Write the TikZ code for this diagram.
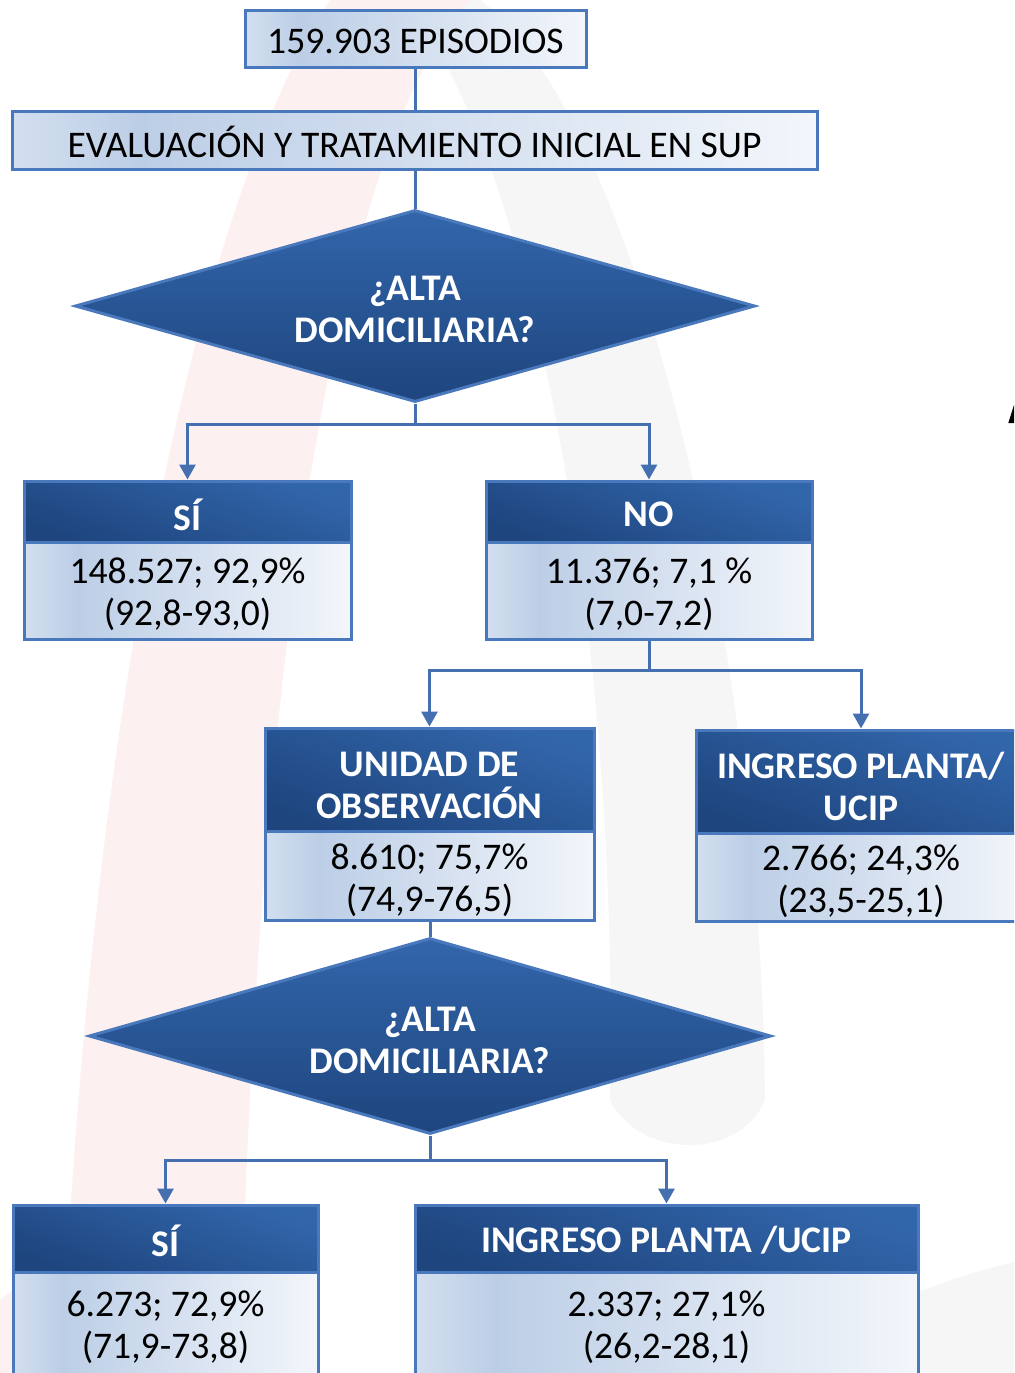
\documentclass[tikz,border=0pt]{standalone}
\usepackage{fontspec}
\setmainfont{Carlito}
\usetikzlibrary{shapes.geometric,arrows.meta,calc}
\definecolor{lnblue}{HTML}{4470B0}
\definecolor{bdblue}{HTML}{4A78BC}
\definecolor{hdtop}{HTML}{3266AB}
\definecolor{hdbot}{HTML}{1E457E}
\definecolor{lbA}{HTML}{D3DFEF}
\definecolor{lbB}{HTML}{BCCEE6}
\definecolor{lbC}{HTML}{F3F6FB}
\definecolor{wmpink}{HTML}{FDF0F0}
\definecolor{wmgray}{HTML}{F6F6F6}
\pgfdeclarehorizontalshading{lightbody}{100bp}{color(0bp)=(lbA); color(25bp)=(lbA); color(33bp)=(lbB); color(75bp)=(lbC); color(100bp)=(lbC)}
\tikzset{
  txt/.style={font=\fontsize{18.8}{21}\selectfont, align=center, inner sep=0pt, text=black},
  wtxt/.style={font=\bfseries\fontsize{18.8}{21}\selectfont, align=center, inner sep=0pt, text=white},
  lightbox/.style={rectangle, draw=bdblue, line width=1.5pt, shading=lightbody, inner sep=0pt},
  headbox/.style={rectangle, draw=bdblue, line width=1.5pt, top color=hdtop, bottom color=hdbot, shading angle=-20, inner sep=0pt},
  decision/.style={diamond, aspect=3.54, draw=bdblue, line width=1.5pt, top color=hdtop, bottom color=hdbot, inner sep=0pt},
  conn/.style={draw=lnblue, line width=1.5pt},
  arr/.style={conn, -{Triangle[width=8pt,length=7.5pt]}},
}
\begin{document}
\begin{tikzpicture}[x=0.5pt,y=-0.5pt]
\useasboundingbox (0,0) rectangle (1014,1373);
\fill[white] (0,0) rectangle (1014,1373);
\begin{scope}
\clip (0,0) rectangle (1014,1373);
% watermark
\fill[wmgray] (400,0) .. controls (520,120) and (620,600) .. (610,1100) .. controls (640,1160) and (740,1160) .. (765,1100) .. controls (760,600) and (620,100) .. (480,0) -- cycle;
\fill[wmpink] (62,1373) .. controls (90,700) and (200,200) .. (330,0) -- (470,0) .. controls (330,150) and (255,700) .. (240,1373) -- cycle;
\fill[wmgray] (760,1373) .. controls (860,1310) and (940,1280) .. (1014,1262) -- (1014,1373) -- cycle;
\fill[wmpink] (0,1300) -- (13,1290) -- (13,1373) -- (0,1373) -- cycle;
\fill[black] (1008.3,423) -- (1014,405) -- (1014,423) -- cycle;

% boxes
\node[lightbox, minimum width=170.5pt, minimum height=28.5pt] (ep) at (415.5,38.5) {};
\node[lightbox, minimum width=402.5pt, minimum height=29pt] (ev) at (414.5,140) {};
\node[decision, minimum width=340pt, minimum height=96pt] (d1) at (415,306) {};

\node[headbox, minimum width=163.5pt, minimum height=30.5pt] (sih) at (187.5,511.5) {};
\node[lightbox, minimum width=163.5pt, minimum height=48.5pt] (sib) at (187.5,590.5) {};
\node[headbox, minimum width=163pt, minimum height=30.5pt] (noh) at (649,511.5) {};
\node[lightbox, minimum width=163pt, minimum height=48.5pt] (nob) at (649,590.5) {};

\node[headbox, minimum width=164.5pt, minimum height=51.5pt] (uoh) at (429.5,779.5) {};
\node[lightbox, minimum width=164.5pt, minimum height=44.5pt] (uob) at (429.5,875.5) {};
\node[headbox, minimum width=165pt, minimum height=51.5pt] (iph) at (861,781.5) {};
\node[lightbox, minimum width=165pt, minimum height=44pt] (ipb) at (861,877) {};

\node[decision, minimum width=341pt, minimum height=98pt] (d2) at (430,1036) {};

\node[headbox, minimum width=152.5pt, minimum height=33.5pt] (s2h) at (165.5,1238.5) {};
\node[lightbox, minimum width=152.5pt, minimum height=53pt] (s2b) at (165.5,1325) {};
\node[headbox, minimum width=251.5pt, minimum height=33.5pt] (i2h) at (666.5,1238.5) {};
\node[lightbox, minimum width=251.5pt, minimum height=53pt] (i2b) at (666.5,1325) {};

% texts
\node[txt] (ept) at (415.5,41.5) {159.903 EPISODIOS};
\node[txt] (evt) at (414.5,141.5) {EVALUACIÓN Y TRATAMIENTO INICIAL EN SUP};
\node[wtxt] (d1t) at (415,309) {¿ALTA\\DOMICILIARIA?};
\node[wtxt] (siht) at (187.5,514.5) {SÍ};
\node[txt] (sibt) at (187.5,594.5) {148.527; 92,9\%\\(92,8-93,0)};
\node[wtxt] (noht) at (649,514.5) {NO};
\node[txt] (nobt) at (649,594.5) {11.376; 7,1 \%\\(7,0-7,2)};
\node[wtxt] (uoht) at (429.5,785.5) {UNIDAD DE\\OBSERVACIÓN};
\node[txt] (uobt) at (429.5,880.5) {8.610; 75,7\%\\(74,9-76,5)};
\node[wtxt] (ipht) at (861,786.5) {INGRESO PLANTA/\\UCIP};
\node[txt] (ipbt) at (861,881.5) {2.766; 24,3\%\\(23,5-25,1)};
\node[wtxt] (d2t) at (430,1040) {¿ALTA\\DOMICILIARIA?};
\node[wtxt] (s2ht) at (165.5,1240.5) {SÍ};
\node[txt] (s2bt) at (165.5,1327.5) {6.273; 72,9\%\\(71,9-73,8)};
\node[wtxt] (i2ht) at (666.5,1240.5) {INGRESO PLANTA /UCIP};
\node[txt] (i2bt) at (666.5,1327.5) {2.337; 27,1\%\\(26,2-28,1)};

% connectors
\draw[conn] (ep.south) -- (ep.south |- ev.north);
\draw[conn] (d1.north |- ev.south) -- (d1.north);
\coordinate (j1) at (415,424);
\draw[conn] (d1.south) -- (j1);
\draw[arr] (j1) -| (sih.north);
\draw[arr] (j1) -| (noh.north);
\coordinate (j2) at (649,670);
\draw[conn] (nob.south) -- (j2);
\draw[arr] (j2) -| (uoh.north);
\draw[arr] (j2) -| (iph.north);
\draw[conn] (d2.north |- uob.south) -- (d2.north);
\coordinate (j3) at (430,1160);
\draw[conn] (d2.south) -- (j3);
\draw[arr] (j3) -| (s2h.north);
\draw[arr] (j3) -| (i2h.north);
\end{scope}
\end{tikzpicture}
\end{document}
